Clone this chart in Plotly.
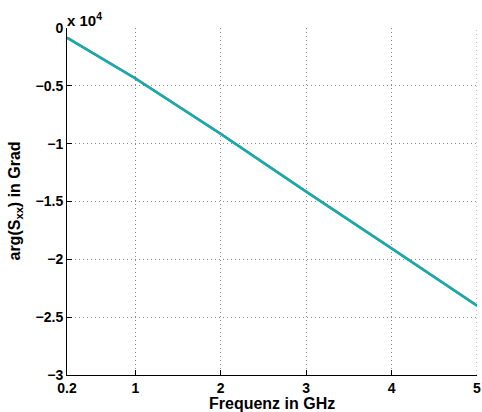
import plotly.graph_objects as go

# Frequency sweep (GHz) and unwrapped reflection phase (degrees)
freq_ghz = [0.2, 1, 2, 3, 4, 5]
phase_deg = [-840, -4350, -9160, -14150, -19050, -24000]

# y-axis ticks are shown in units of 10^4 degrees
y_tick_vals = [-30000, -25000, -20000, -15000, -10000, -5000, 0]
y_tick_text = ["\u22123", "\u22122.5", "\u22122", "\u22121.5", "\u22121", "\u22120.5", "0"]
x_tick_vals = [0.2, 1, 2, 3, 4, 5]
x_tick_text = ["0.2", "1", "2", "3", "4", "5"]

font_family = "Liberation Sans, Arial, Helvetica, sans-serif"
grid_color = "#8a8a8a"
grid_dash = "1px,3px"
grid_style = dict(showgrid=True, gridcolor=grid_color, griddash=grid_dash, gridwidth=1)


def bold(labels):
    return ["<b>%s</b>" % t for t in labels]


fig = go.Figure()
# two overlapping measurement traces
fig.add_trace(go.Scatter(x=freq_ghz, y=phase_deg, mode="lines",
                         line=dict(color="#d8402a", width=2), showlegend=False))
fig.add_trace(go.Scatter(x=freq_ghz, y=phase_deg, mode="lines",
                         line=dict(color="#19a9aa", width=2.8), showlegend=False))

# grid line at the right-hand edge of the frequency range
fig.add_shape(type="line", xref="x", yref="paper",
              x0=x_tick_vals[-1], x1=x_tick_vals[-1], y0=0, y1=1,
              line=dict(color=grid_color, width=1, dash=grid_dash), layer="below")

fig.update_layout(
    width=482, height=412,
    margin=dict(l=67, r=1, t=28, b=37),
    paper_bgcolor="white", plot_bgcolor="white",
    font=dict(family=font_family, size=14, color="black"),
    xaxis=dict(
        range=[0.2, 5], tickvals=x_tick_vals, ticktext=bold(x_tick_text),
        showline=True, linecolor="black", linewidth=1,
        ticks="inside", ticklen=5, tickcolor="black",
        ticklabeloverflow="allow",
        zeroline=False, tickfont=dict(family=font_family, size=14),
        **grid_style,
    ),
    yaxis=dict(
        range=[-30000, 0], tickvals=y_tick_vals, ticktext=bold(y_tick_text),
        showline=True, linecolor="black", linewidth=1,
        ticks="inside", ticklen=5, tickcolor="black",
        zeroline=False, tickfont=dict(family=font_family, size=14),
        **grid_style,
    ),
    annotations=[
        dict(text="<b>x 10<sup>4</sup></b>", xref="paper", yref="paper",
             x=0, y=1, xanchor="left", yanchor="bottom", xshift=-2, yshift=-3,
             showarrow=False, font=dict(size=15)),
        dict(text="<b>arg(S<sub>xx</sub>) in Grad</b>", xref="paper", yref="paper",
             x=0, y=0.5, xanchor="center", yanchor="middle", xshift=-52,
             textangle=-90, showarrow=False, font=dict(size=16)),
        dict(text="<b>Frequenz in GHz</b>", xref="paper", yref="paper",
             x=0.5, y=0, xanchor="center", yanchor="middle", yshift=-28,
             showarrow=False, font=dict(size=16)),
    ],
)

fig.write_html("out.html")
